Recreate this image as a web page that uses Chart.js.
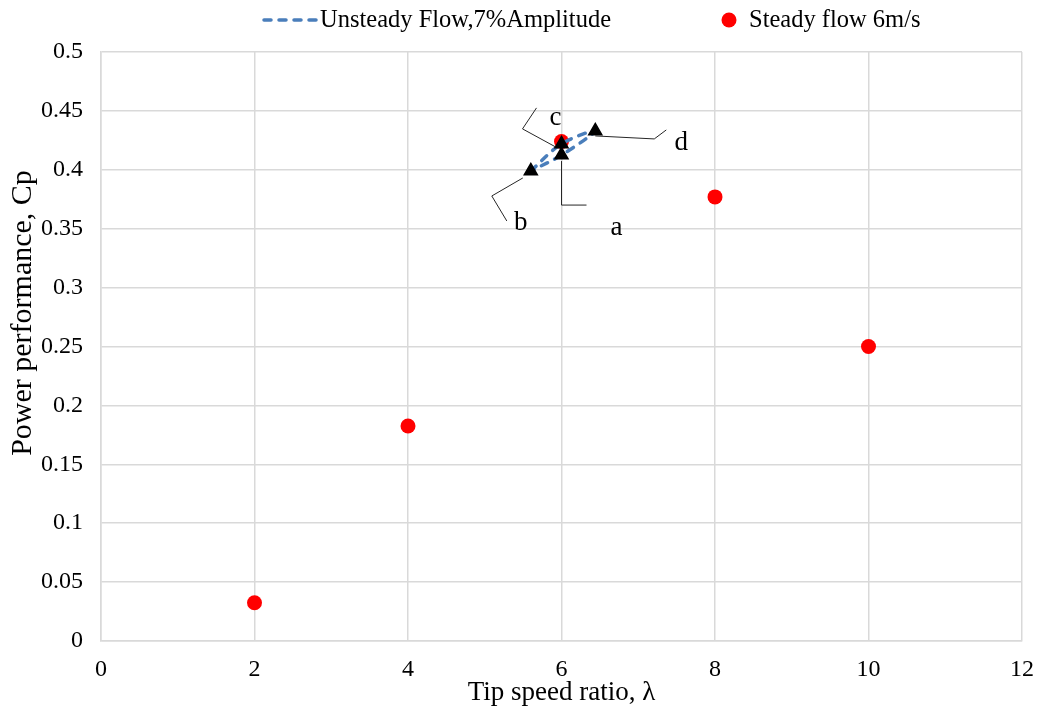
<!DOCTYPE html>
<html>
<head>
<meta charset="utf-8">
<script src="https://cdn.jsdelivr.net/npm/chart.js@4"></script>
<style>
  html, body { margin: 0; padding: 0; background: #fff; }
  #wrap { width: 1042px; height: 721px; }
</style>
</head>
<body>
<div id="wrap"><canvas id="myChart" width="1042" height="721"></canvas></div>
<script>
const xTicks = [0, 2, 4, 6, 8, 10, 12];
const yTicks = [0, 0.05, 0.1, 0.15, 0.2, 0.25, 0.3, 0.35, 0.4, 0.45, 0.5];

// steady flow, 6 m/s
const steadyTsr = [2, 4, 6, 8, 10];
const steadyCp = [0.0325, 0.1825, 0.424, 0.377, 0.25];

// unsteady cycle, 7% amplitude (b -> c -> d -> a -> b)
const loopTsr = [5.6, 6.0, 6.44, 6.0, 5.6];
const loopCp = [0.399, 0.422, 0.433, 0.4125, 0.399];

// marked instants in the cycle
const markNames = ["a", "b", "c", "d"];
const markTsr = [6.0, 5.6, 6.0, 6.44];
const markCp = [0.4125, 0.399, 0.422, 0.433];

const serif = "'Liberation Serif', 'Times New Roman', serif";
const lineBlue = "#4a7ebb";

// leader lines for the a-d callouts, pixel offsets from each marker
const callouts = {
  a: { path: [[0, 6], [0, 50], [25, 50]], text: [55, 73] },
  b: { path: [[-8, 7], [-39, 25], [-24, 50]], text: [-10, 52] },
  c: { path: [[-6, 3], [-39, -15], [-25, -36]], text: [-6, -26] },
  d: { path: [[0, 5], [59, 8], [71, -1]], text: [86, 12] },
};

const extras = {
  id: "extras",
  afterDatasetsDraw(chart) {
    const ctx = chart.ctx;
    const pts = chart.getDatasetMeta(0).data;
    ctx.save();
    ctx.strokeStyle = "#262626";
    ctx.lineWidth = 1;
    ctx.fillStyle = "#000";
    ctx.font = "27px " + serif;
    ctx.textAlign = "center";
    ctx.textBaseline = "middle";
    markNames.forEach((n, i) => {
      const p = pts[i];
      const c = callouts[n];
      ctx.beginPath();
      c.path.forEach(([dx, dy], k) => {
        if (k === 0) ctx.moveTo(p.x + dx, p.y + dy);
        else ctx.lineTo(p.x + dx, p.y + dy);
      });
      ctx.stroke();
      ctx.fillText(n, p.x + c.text[0], p.y + c.text[1]);
    });
    ctx.restore();
  },
  afterDraw(chart) {
    const ctx = chart.ctx;
    const area = chart.chartArea;
    ctx.save();
    ctx.fillStyle = "#000";
    ctx.textAlign = "center";
    ctx.textBaseline = "middle";
    // axis titles
    ctx.font = "27px " + serif;
    ctx.fillText("Tip speed ratio, λ", (area.left + area.right) / 2, 693);
    ctx.save();
    ctx.translate(23, 313);
    ctx.rotate(-Math.PI / 2);
    ctx.font = "30px " + serif;
    ctx.fillText("Power performance, Cp", 0, 0);
    ctx.restore();

    // legend
    ctx.font = "24.5px " + serif;
    ctx.textAlign = "left";
    ctx.strokeStyle = lineBlue;
    ctx.lineWidth = 3.5;
    ctx.lineCap = "round";
    ctx.setLineDash([7, 8]);
    ctx.beginPath();
    ctx.moveTo(264, 20);
    ctx.lineTo(316, 20);
    ctx.stroke();
    ctx.setLineDash([]);
    ctx.fillText("Unsteady Flow,7%Amplitude", 320, 21);
    ctx.fillStyle = "#ff0000";
    ctx.beginPath();
    ctx.arc(729, 20, 7.5, 0, Math.PI * 2);
    ctx.fill();
    ctx.fillStyle = "#000";
    ctx.fillText("Steady flow 6m/s", 749, 21);
    ctx.restore();
  },
};

const ctx = document.getElementById("myChart").getContext("2d");
const myChart = new Chart(ctx, {
  type: "scatter",
  data: {
    datasets: [
      {
        label: "marks",
        data: markTsr.map((x, i) => ({ x, y: markCp[i] })),
        pointStyle: "triangle",
        pointRadius: 7.5,
        backgroundColor: "#000",
        borderColor: "#000",
        borderWidth: 1.5,
        borderJoinStyle: "round",
      },
      {
        label: "Unsteady Flow,7%Amplitude",
        data: loopTsr.map((x, i) => ({ x, y: loopCp[i] })),
        showLine: true,
        tension: 0.35,
        borderColor: lineBlue,
        borderWidth: 3.5,
        borderDash: [7, 8],
        borderCapStyle: "round",
        pointRadius: 0,
      },
      {
        label: "Steady flow 6m/s",
        data: steadyTsr.map((x, i) => ({ x, y: steadyCp[i] })),
        pointStyle: "circle",
        pointRadius: 7.5,
        backgroundColor: "#ff0000",
        borderColor: "#ff0000",
        borderWidth: 0,
      },
    ],
  },
  options: {
    responsive: false,
    animation: false,
    layout: { padding: { top: 52, right: 20, left: 0, bottom: 0 } },
    plugins: {
      legend: { display: false },
      tooltip: { enabled: false },
    },
    scales: {
      x: {
        type: "linear",
        min: 0,
        max: 12,
        afterBuildTicks: (s) => { s.ticks = xTicks.map((v) => ({ value: v })); },
        afterFit: (s) => {
          s.height = 80;
          s.paddingLeft = 0;
          s.paddingRight = 0;
        },
        grid: { color: "#d9d9d9", lineWidth: 1.5, drawTicks: false },
        border: { color: "#d9d9d9", width: 1.5 },
        ticks: {
          padding: 14,
          color: "#000",
          font: { family: serif, size: 24 },
          callback: (v) => String(v),
        },
      },
      y: {
        type: "linear",
        min: 0,
        max: 0.5,
        afterBuildTicks: (s) => { s.ticks = yTicks.map((v) => ({ value: v })); },
        afterFit: (s) => { s.width = 101; },
        grid: { color: "#d9d9d9", lineWidth: 1.5, drawTicks: false },
        border: { color: "#d9d9d9", width: 1.5 },
        ticks: {
          padding: 18,
          color: "#000",
          font: { family: serif, size: 24 },
          callback: (v) => String(v),
        },
      },
    },
  },
  plugins: [extras],
});
</script>
</body>
</html>
